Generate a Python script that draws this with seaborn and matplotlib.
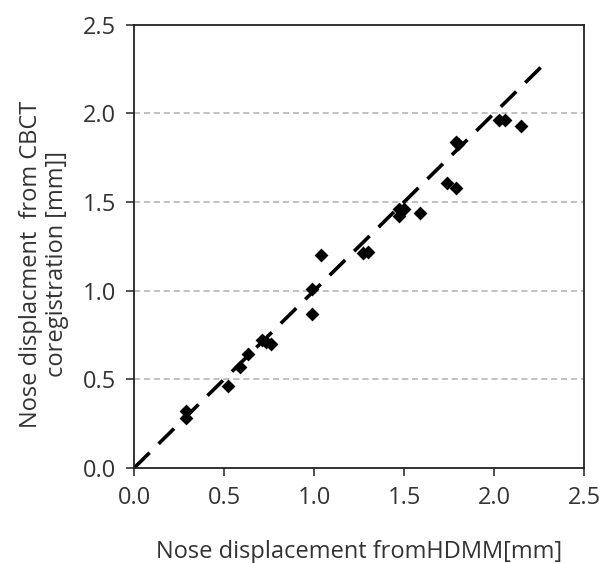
import numpy as np
import pandas as pd
import seaborn as sns
import matplotlib.pyplot as plt

# values
hdmm = [0.29, 0.29, 0.52, 0.59, 0.63, 0.71, 0.73, 0.76, 0.99, 0.99, 1.04,
        1.27, 1.30, 1.47, 1.47, 1.50, 1.59, 1.74, 1.79, 1.80, 1.79, 2.03, 2.06, 2.15]
cbct = [0.28, 0.32, 0.46, 0.57, 0.64, 0.72, 0.71, 0.70, 0.87, 1.01, 1.20,
        1.21, 1.22, 1.42, 1.46, 1.46, 1.44, 1.61, 1.58, 1.83, 1.84, 1.96, 1.96, 1.93]
identity_x = [0.0, 2.27]
identity_y = [0.0, 2.27]
ticks = [0.0, 0.5, 1.0, 1.5, 2.0, 2.5]

df = pd.DataFrame({'HDMM': hdmm, 'CBCT': cbct})

sns.set_style('white')
plt.rcParams['font.family'] = ['Open Sans', 'DejaVu Sans']

fig, ax = plt.subplots(figsize=(5.99, 5.63), dpi=100)
fig.subplots_adjust(left=0.224, right=0.975, bottom=0.169, top=0.956)

# dashed grey gridlines
for t in ticks[1:-1]:
    ax.axhline(t, color='#b0b0b0', lw=1.1, ls=(0, (4, 2.5)), zorder=0)

ax.plot(identity_x, identity_y, color='black', lw=2.6, ls=(0, (6, 3.5)), zorder=2)
sns.scatterplot(data=df, x='HDMM', y='CBCT', marker='D', color='black', s=50,
                edgecolor='black', linewidth=0, ax=ax, zorder=3)

ax.set_xlim(0, 2.5)
ax.set_ylim(0, 2.5)
ax.set_xticks(ticks)
ax.set_yticks(ticks)
ax.set_xticklabels([f'{t:.1f}' for t in ticks], fontsize=17, color='#333333')
ax.set_yticklabels([f'{t:.1f}' for t in ticks], fontsize=17, color='#333333')
ax.tick_params(direction='out', length=6, width=1.2, colors='#333333', pad=7,
               bottom=True, left=True)

for sp in ax.spines.values():
    sp.set_color('#222222')
    sp.set_linewidth(1.3)

ax.set_xlabel('Nose displacement fromHDMM[mm]', fontsize=17, color='#333333', labelpad=22)
ax.set_ylabel('Nose displacment  from CBCT\ncoregistration [mm]]', fontsize=17,
              color='#333333', linespacing=1.1)
ax.yaxis.set_label_coords(-0.145, 0.46)

plt.savefig('out.png', dpi=100)
